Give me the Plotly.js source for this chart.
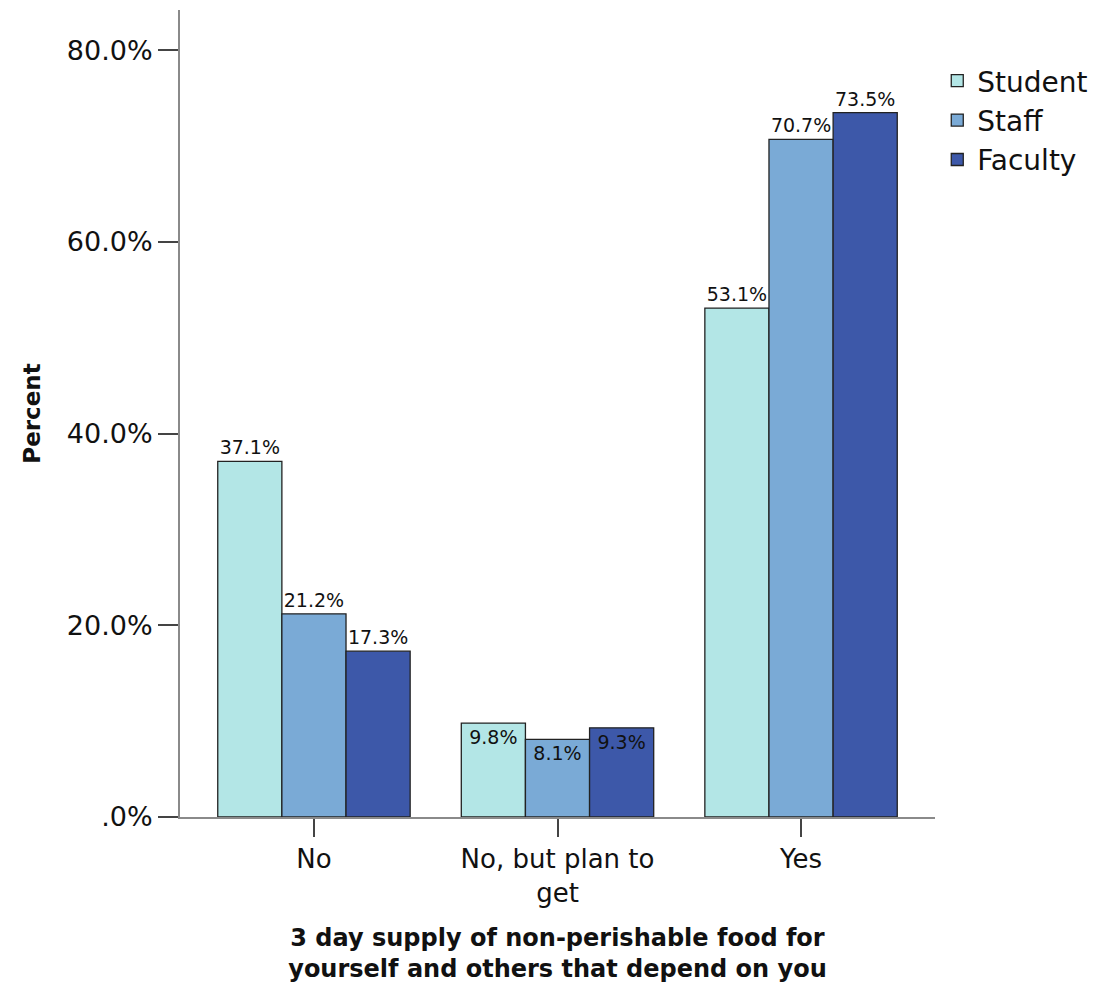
<!DOCTYPE html>
<html>
<head>
<meta charset="utf-8">
<script src="https://cdn.plot.ly/plotly-3.0.1.min.js"></script>
<style>html,body{margin:0;padding:0;background:#fff;}#chart{width:1110px;height:997px;}</style>
</head>
<body>
<div id="chart"></div>
<script>
const categories = ["No", "No, but plan to<br>get", "Yes"];
const seriesNames = ["Student", "Staff", "Faculty"];
const studentValues = [37.1, 9.8, 53.1];
const staffValues = [21.2, 8.1, 70.7];
const facultyValues = [17.3, 9.3, 73.5];
const seriesColors = ["#b3e6e6", "#7aaad6", "#3d58a9"];
const yTickVals = [0, 20, 40, 60, 80];
const yTickText = [".0%", "20.0%", "40.0%", "60.0%", "80.0%"];
const labelPositions = ["outside", "inside", "outside"];

const FONT = "DejaVu Sans, Liberation Sans, sans-serif";
const allValues = [studentValues, staffValues, facultyValues];

const traces = allValues.map((vals, i) => ({
  type: "bar",
  name: seriesNames[i],
  x: categories,
  y: vals,
  text: vals.map(v => v.toFixed(1) + "%"),
  textposition: labelPositions,
  insidetextanchor: "end",
  textangle: 0,
  constraintext: "none",
  cliponaxis: false,
  textfont: {family: FONT, size: 19, color: "#111"},
  insidetextfont: {family: FONT, size: 19, color: "#111"},
  outsidetextfont: {family: FONT, size: 19, color: "#111"},
  marker: {color: seriesColors[i], line: {color: "#222", width: 1.3}},
  hoverinfo: "skip"
}));

const layout = {
  width: 1110,
  height: 997,
  paper_bgcolor: "#fff",
  plot_bgcolor: "#fff",
  margin: {l: 180, r: 175, t: 10, b: 180},
  barmode: "group",
  bargap: 0.21,
  bargroupgap: 0,
  font: {family: FONT, color: "#111"},
  xaxis: {
    range: [-0.55, 2.55],
    showline: true, linecolor: "#8a8a8a", linewidth: 2,
    ticks: "outside", ticklen: 18, tickwidth: 2, tickcolor: "#444",
    tickfont: {family: FONT, size: 26, color: "#111"},
    showgrid: false, zeroline: false,
    title: {text: "<b>3 day supply of non-perishable food for<br>yourself and others that depend on you</b>",
            font: {family: FONT, size: 24, color: "#111"}, standoff: 22}
  },
  yaxis: {
    range: [0, 84.2],
    tickvals: yTickVals, ticktext: yTickText,
    showline: true, linecolor: "#8a8a8a", linewidth: 2,
    ticks: "outside", ticklen: 20, tickwidth: 2, tickcolor: "#444",
    tickfont: {family: FONT, size: 27, color: "#111"},
    showgrid: false, zeroline: false,
    title: {text: "<b>Percent</b>", font: {family: FONT, size: 23, color: "#111"}, standoff: 20}
  },
  legend: {
    x: 1.003, y: 0.943, xanchor: "left", yanchor: "top",
    font: {family: FONT, size: 28, color: "#111"},
    bgcolor: "rgba(0,0,0,0)", tracegroupgap: 0, itemwidth: 30
  },
  showlegend: true
};

Plotly.newPlot("chart", traces, layout, {displayModeBar: false, staticPlot: true});
</script>
</body>
</html>
